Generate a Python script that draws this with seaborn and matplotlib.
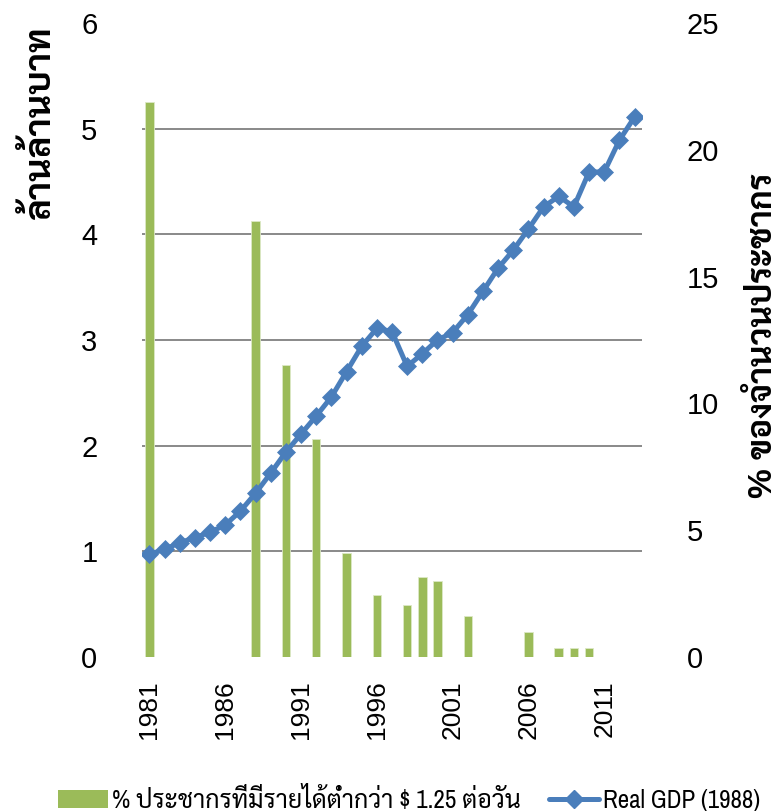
import numpy as np
import matplotlib
matplotlib.use('Agg')
import matplotlib.pyplot as plt
from matplotlib.lines import Line2D
from matplotlib.patches import Patch
import seaborn as sns

sns.set_theme(style='white')
thai_fb = ['Sarabun', 'Noto Sans Thai Looped', 'Noto Sans Thai', 'DejaVu Sans']
plt.rcParams['font.family'] = ['Liberation Sans'] + thai_fb
plt.rcParams['text.color'] = 'black'
plt.rcParams['xtick.color'] = 'black'
plt.rcParams['ytick.color'] = 'black'

# real GDP (1988 prices), trillion baht
years = list(range(1981, 2014))
gdp = [0.97, 1.02, 1.08, 1.13, 1.18, 1.25, 1.38, 1.55, 1.74, 1.94, 2.11,
       2.28, 2.46, 2.70, 2.94, 3.11, 3.08, 2.75, 2.87, 3.00, 3.07, 3.24,
       3.46, 3.68, 3.85, 4.05, 4.26, 4.36, 4.26, 4.59, 4.59, 4.89, 5.11]

# % population below $1.25 / day
bar_years = [1981, 1988, 1990, 1992, 1994, 1996, 1998, 1999, 2000, 2002, 2006, 2008, 2009, 2010]
poverty = [21.9, 17.2, 11.5, 8.6, 4.1, 2.45, 2.05, 3.15, 3.0, 1.6, 1.0, 0.37, 0.37, 0.37]

year_ticks = [1981, 1986, 1991, 1996, 2001, 2006, 2011]
left_ticks = [0, 1, 2, 3, 4, 5, 6]
right_ticks = [0, 5, 10, 15, 20, 25]

green = '#9BBB59'
blue = '#4A7EBB'
grid_col = '#898989'

fig = plt.figure(figsize=(7.84, 8.11), dpi=100)
ax = fig.add_axes([0.181, 0.190, 0.638, 0.7816])
ax2 = ax.twinx()

sns.barplot(x=bar_years, y=poverty, native_scale=True, width=0.56, color=green,
            saturation=1, errorbar=None, edgecolor='#DCE8C6', linewidth=0.6, ax=ax, zorder=2)
sns.lineplot(x=years, y=gdp, ax=ax2, color=blue, lw=3.6, marker='D', markersize=9.5,
             markeredgecolor=blue, markeredgewidth=0.5, zorder=3)

ax.set_xlim(1980.5, 2013.5)
ax.set_ylim(0, 25)
ax2.set_ylim(0, 6)

# gridlines at the left-axis ticks, drawn behind the bars
ax.set_yticks(np.array(left_ticks) * 25 / 6, minor=True)
ax.grid(which='minor', axis='y', color=grid_col, lw=1.4, zorder=0)
ax.grid(which='major', visible=False)
ax.set_axisbelow(True)

ax.set_yticks(right_ticks)
ax.yaxis.tick_right()
ax2.set_yticks(left_ticks)
ax2.yaxis.tick_left()
ax.set_xticks(year_ticks)
ax.set_xticklabels([str(y) for y in year_ticks], rotation=90, fontsize=19)
ax.tick_params(axis='x', length=0, pad=17)
ax.tick_params(axis='y', which='both', length=0, labelsize=21, pad=32,
               labelright=True, labelleft=False)
ax2.tick_params(axis='y', length=0, labelsize=21, pad=32, labelleft=True, labelright=False)
ax.set_xlabel('')
ax.set_ylabel('')
ax2.set_ylabel('')
for a in (ax, ax2):
    for s in a.spines.values():
        s.set_visible(False)

fig.text(40 / 784, 1 - 122 / 811, 'ล้านล้านบาท', rotation=90, ha='center', va='center',
         fontsize=26, fontweight='bold')
fig.text(763 / 784, 1 - 335 / 811, '% ของจำนวนประชากร', rotation=90, ha='center', va='center',
         fontsize=24, fontweight='bold')

handles = [Patch(facecolor=green, edgecolor='none'),
           Line2D([], [], color=blue, lw=3.6, marker='D', markersize=9.5)]
labels = ['% ประชากรที่มีรายได้ต่ำกว่า $ 1.25 ต่อวัน', 'Real GDP (1988)']
fig.legend(handles, labels, loc='center left', bbox_to_anchor=(58 / 784, 1 - 799 / 811),
           ncol=2, frameon=False, handlelength=2.0, handleheight=0.72,
           handletextpad=0.15, columnspacing=1.15, borderpad=0, borderaxespad=0,
           prop={'family': ['Liberation Sans Narrow', 'Archivo Narrow', 'Roboto Condensed'] + thai_fb,
                 'size': 18})

fig.savefig('out.png', dpi=100)
